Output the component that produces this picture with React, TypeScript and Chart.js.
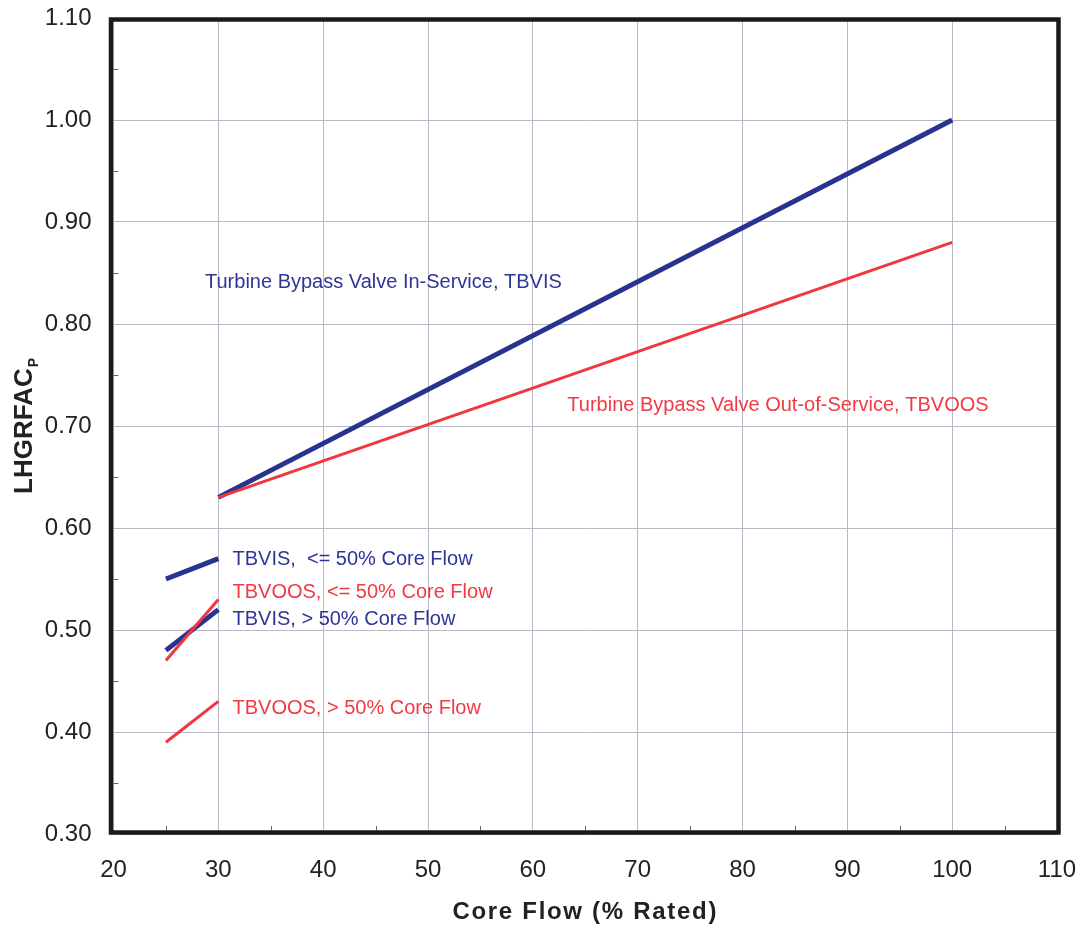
import React, { useEffect, useRef } from 'react';
import { Chart, registerables } from 'chart.js';

Chart.register(...registerables);

// ---- data ----
const flowMain = [30, 100];
const tbvisMain = [0.63, 1.0];
const tbvoosMain = [0.63, 0.88];

const flowLow = [25, 30];
const tbvisLe50 = [0.55, 0.57];
const tbvoosLe50 = [0.47, 0.53];
const tbvisGt50 = [0.48, 0.52];
const tbvoosGt50 = [0.39, 0.43];

const xTicks = [20, 30, 40, 50, 60, 70, 80, 90, 100, 110];
const yTicks = [0.3, 0.4, 0.5, 0.6, 0.7, 0.8, 0.9, 1.0, 1.1];
const xMinorTicks = [25, 35, 45, 55, 65, 75, 85, 95, 105];
const yMinorTicks = [0.35, 0.45, 0.55, 0.65, 0.75, 0.85, 0.95, 1.05];

const xTitle = 'Core Flow (% Rated)';
const yTitleMain = 'LHGRFAC';
const yTitleSub = 'P';

const labelTexts = [
  'Turbine Bypass Valve In-Service, TBVIS',
  'Turbine Bypass Valve Out-of-Service, TBVOOS',
  'TBVIS,  <= 50% Core Flow',
  'TBVOOS, <= 50% Core Flow',
  'TBVIS, > 50% Core Flow',
  'TBVOOS, > 50% Core Flow',
];
const labelFlow = [28.73, 63.29, 31.35, 31.35, 31.35, 31.35];
const labelValue = [0.841, 0.72, 0.569, 0.5363, 0.5103, 0.4235];
const labelIsRed = [false, true, false, true, false, true];

const BLUE = '#283390';
const RED = '#f0363e';
const BLUE_TEXT = '#2e3599';
const RED_TEXT = '#f03a44';
const FONT = "'Liberation Sans', Arial, sans-serif";

const pts = (xs: number[], ys: number[]) => xs.map((x, i) => ({ x, y: ys[i] }));

const decorPlugin = {
  id: 'decor',
  afterDatasetsDraw(chart: any) {
    const ctx = chart.ctx;
    const xs = chart.scales.x;
    const ys = chart.scales.y;
    ctx.save();
    ctx.font = `20px ${FONT}`;
    ctx.textAlign = 'left';
    ctx.textBaseline = 'middle';
    labelTexts.forEach((t, i) => {
      ctx.fillStyle = labelIsRed[i] ? RED_TEXT : BLUE_TEXT;
      ctx.fillText(t, xs.getPixelForValue(labelFlow[i]), ys.getPixelForValue(labelValue[i]));
    });
    ctx.restore();
  },
  afterDraw(chart: any) {
    const ctx = chart.ctx;
    const a = chart.chartArea;
    const xs = chart.scales.x;
    const ys = chart.scales.y;
    ctx.save();
    // minor ticks
    ctx.strokeStyle = '#666';
    ctx.lineWidth = 1;
    xMinorTicks.forEach((v) => {
      const px = Math.round(xs.getPixelForValue(v)) + 0.5;
      ctx.beginPath();
      ctx.moveTo(px, a.bottom - 3);
      ctx.lineTo(px, a.bottom - 8);
      ctx.stroke();
    });
    yMinorTicks.forEach((v) => {
      const py = Math.round(ys.getPixelForValue(v)) + 0.5;
      ctx.beginPath();
      ctx.moveTo(a.left, py);
      ctx.lineTo(a.left + 5, py);
      ctx.stroke();
    });
    // frame
    ctx.strokeStyle = '#1a1a1a';
    ctx.lineWidth = 4.5;
    ctx.strokeRect(a.left - 2.5, a.top + 1.5, a.right - a.left + 4, a.bottom - a.top - 3);
    // x title
    ctx.fillStyle = '#222';
    ctx.font = `bold 24px ${FONT}`;
    (ctx as any).letterSpacing = '1.7px';
    ctx.textAlign = 'center';
    ctx.textBaseline = 'middle';
    ctx.fillText(xTitle, (a.left + a.right) / 2, 912.5);
    (ctx as any).letterSpacing = '0px';
    // y title with subscript
    ctx.font = `bold 26px ${FONT}`;
    const wMain = ctx.measureText(yTitleMain).width;
    ctx.font = `bold 14px ${FONT}`;
    const wSub = ctx.measureText(yTitleSub).width;
    const total = wMain + 1 + wSub;
    const cy = (a.top + a.bottom) / 2;
    ctx.translate(31.7, cy + total / 2);
    ctx.rotate(-Math.PI / 2);
    ctx.textAlign = 'left';
    ctx.textBaseline = 'alphabetic';
    ctx.font = `bold 26px ${FONT}`;
    ctx.fillText(yTitleMain, 0, 0);
    ctx.font = `bold 14px ${FONT}`;
    ctx.fillText(yTitleSub, wMain + 1, 6.6);
    ctx.restore();
  },
};

export default function App() {
  const ref = useRef<HTMLCanvasElement | null>(null);
  useEffect(() => {
    if (!ref.current) return;
    const chart = new Chart(ref.current, {
      type: 'scatter',
      data: {
        datasets: [
          { label: 'TBVOOS', data: pts(flowMain, tbvoosMain), borderColor: RED, borderWidth: 3 },
          { label: 'TBVOOS <=50', data: pts(flowLow, tbvoosLe50), borderColor: RED, borderWidth: 3 },
          { label: 'TBVOOS >50', data: pts(flowLow, tbvoosGt50), borderColor: RED, borderWidth: 3 },
          { label: 'TBVIS', data: pts(flowMain, tbvisMain), borderColor: BLUE, borderWidth: 5 },
          { label: 'TBVIS <=50', data: pts(flowLow, tbvisLe50), borderColor: BLUE, borderWidth: 5 },
          { label: 'TBVIS >50', data: pts(flowLow, tbvisGt50), borderColor: BLUE, borderWidth: 5 },
        ].map((d) => ({ ...d, showLine: true, pointRadius: 0, pointHoverRadius: 0, fill: false, backgroundColor: d.borderColor })),
      },
      options: {
        animation: false,
        responsive: false,
        events: [],
        layout: { padding: { top: 18, right: 30, left: 0, bottom: 0 } },
        plugins: { legend: { display: false }, tooltip: { enabled: false } },
        scales: {
          x: {
            type: 'linear',
            min: 20,
            max: 110,
            afterBuildTicks: (s: any) => {
              s.ticks = xTicks.map((v) => ({ value: v }));
            },
            afterFit: (s: any) => {
              s.height = 99;
              s.paddingLeft = 0;
              s.paddingRight = 0;
              s.paddingTop = 0;
              s.paddingBottom = 0;
            },
            grid: { color: '#b8b8c6', lineWidth: 1, drawTicks: false },
            border: { display: false },
            ticks: {
              padding: 22,
              color: '#222',
              font: { family: FONT, size: 24 },
              maxRotation: 0,
              autoSkip: false,
              callback: (v: any) => String(v),
            },
          },
          y: {
            type: 'linear',
            min: 0.3,
            max: 1.1,
            afterBuildTicks: (s: any) => {
              s.ticks = yTicks.map((v) => ({ value: v }));
            },
            afterFit: (s: any) => {
              s.width = 113.5;
              s.paddingLeft = 0;
              s.paddingRight = 0;
              s.paddingTop = 0;
              s.paddingBottom = 0;
            },
            grid: { color: '#b8b8c6', lineWidth: 1, drawTicks: false },
            border: { display: false },
            ticks: {
              padding: 22,
              color: '#222',
              font: { family: FONT, size: 24 },
              autoSkip: false,
              callback: (v: any) => Number(v).toFixed(2),
            },
          },
        },
      },
      plugins: [decorPlugin],
    } as any);
    return () => chart.destroy();
  }, []);
  return (
    <div style={{ position: 'fixed', left: 0, top: 0, width: 1087, height: 933, background: '#fff' }}>
      <canvas ref={ref} width={1087} height={933} style={{ display: 'block' }} />
    </div>
  );
}
